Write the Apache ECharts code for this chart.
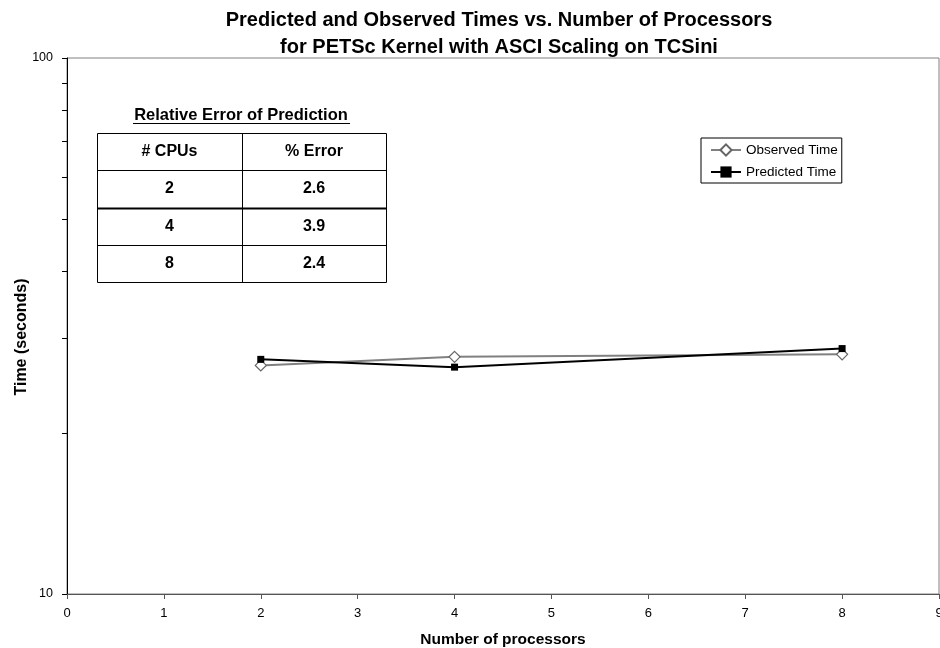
<!DOCTYPE html>
<html>
<head>
<meta charset="utf-8">
<script src="https://cdn.jsdelivr.net/npm/echarts@6/dist/echarts.min.js"></script>
<style>
  html, body { margin: 0; padding: 0; background: #fff; }
  #chart { width: 940px; height: 648px; }
</style>
</head>
<body>
<div id="chart"></div>
<script>
// number of processors
const processors = [2, 4, 8];
// times in seconds
const observedTime = [26.7, 27.7, 28.0];
const predictedTime = [27.4, 26.5, 28.7];

// inset table
const tableHeader = ["# CPUs", "% Error"];
const tableCpus = ["2", "4", "8"];
const tableError = ["2.6", "3.9", "2.4"];

// minor ticks on the log axis
const minorTickValues = [20, 30, 40, 50, 60, 70, 80, 90];

const FONT = 'Arial, "Liberation Sans", sans-serif';

const chart = echarts.init(document.getElementById("chart"));

// build table graphics
const tLeft = 97, tTop = 133, tWidth = 289, tRowH = 37.25, tColX = 242;
const tableGraphics = [];
tableGraphics.push({
  type: "text",
  x: (tLeft + tLeft + tWidth) / 2 - 0.5,
  y: 115,
  style: {
    text: "Relative Error of Prediction",
    font: "bold 16.5px " + FONT,
    fill: "#000",
    textAlign: "center",
    textVerticalAlign: "middle"
  }
});
tableGraphics.push({
  type: "line",
  shape: { x1: 133, y1: 123.5, x2: 350, y2: 123.5 },
  style: { stroke: "#000", lineWidth: 1 }
});
tableGraphics.push({
  type: "rect",
  shape: { x: tLeft + 0.5, y: tTop + 0.5, width: tWidth, height: tRowH * 4 },
  style: { fill: "#fff", stroke: "#000", lineWidth: 1 }
});
tableGraphics.push({
  type: "line",
  shape: { x1: tColX + 0.5, y1: tTop, x2: tColX + 0.5, y2: tTop + tRowH * 4 },
  style: { stroke: "#000", lineWidth: 1 }
});
for (let r = 1; r < 4; r++) {
  const yy = Math.round(tTop + tRowH * r) + 0.5;
  tableGraphics.push({
    type: "line",
    shape: { x1: tLeft, y1: yy, x2: tLeft + tWidth, y2: yy },
    style: { stroke: "#000", lineWidth: r === 2 ? 2 : 1 }
  });
}
const rows = [tableHeader].concat(tableCpus.map((c, i) => [c, tableError[i]]));
rows.forEach((row, r) => {
  const cy = tTop + tRowH * r + tRowH / 2;
  tableGraphics.push({
    type: "text",
    x: (tLeft + tColX) / 2,
    y: cy,
    style: { text: row[0], font: "bold 16px " + FONT, fill: "#000", textAlign: "center", textVerticalAlign: "middle" }
  });
  tableGraphics.push({
    type: "text",
    x: (tColX + tLeft + tWidth) / 2,
    y: cy,
    style: { text: row[1], font: "bold 16px " + FONT, fill: "#000", textAlign: "center", textVerticalAlign: "middle" }
  });
});

const option = {
  backgroundColor: "#fff",
  animation: false,
  title: {
    text: "Predicted and Observed Times vs. Number of Processors\nfor PETSc Kernel with ASCI Scaling on TCSini",
    left: 494,
    top: 2,
    textAlign: "center",
    textStyle: {
      fontFamily: FONT,
      fontSize: 20,
      fontWeight: "bold",
      color: "#000",
      lineHeight: 27
    }
  },
  legend: {
    orient: "vertical",
    left: 701,
    top: 138,
    padding: [5, 4, 4, 9],
    itemGap: 8,
    itemWidth: 30,
    itemHeight: 14,
    borderColor: "#000",
    borderWidth: 1,
    backgroundColor: "#fff",
    selectedMode: false,
    data: ["Observed Time", "Predicted Time"],
    textStyle: { fontFamily: FONT, fontSize: 13.5, color: "#000" }
  },
  grid: {
    left: 67,
    right: 1,
    top: 58,
    bottom: 54,
    containLabel: false,
    outerBoundsMode: "none",
    show: true,
    borderColor: "#808080",
    borderWidth: 1
  },
  xAxis: {
    type: "value",
    min: 0,
    max: 9,
    interval: 1,
    name: "Number of processors",
    nameLocation: "middle",
    nameGap: 38,
    nameMoveOverlap: false,
    nameTextStyle: { fontFamily: FONT, fontSize: 15.5, fontWeight: "bold", color: "#000" },
    axisLine: { show: true, lineStyle: { color: "#555", width: 1 } },
    axisTick: { show: true, inside: false, length: 5, lineStyle: { color: "#555" } },
    axisLabel: { margin: 13, fontFamily: FONT, fontSize: 13, color: "#000" },
    splitLine: { show: false }
  },
  yAxis: {
    type: "log",
    logBase: 10,
    min: 10,
    max: 100,
    name: "Time (seconds)",
    nameLocation: "middle",
    nameGap: 37,
    nameMoveOverlap: false,
    nameTextStyle: { fontFamily: FONT, fontSize: 16, fontWeight: "bold", color: "#000", padding: [0, 22, 0, 0] },
    axisLine: { show: true, lineStyle: { color: "#000", width: 1 } },
    axisTick: { show: true, inside: false, length: 5, lineStyle: { color: "#000" } },
    axisLabel: { margin: 14, fontFamily: FONT, fontSize: 12.5, color: "#000" },
    splitLine: { show: false }
  },
  graphic: tableGraphics,
  series: [
    {
      name: "Observed Time",
      type: "line",
      data: processors.map((p, i) => [p, observedTime[i]]),
      symbol: "diamond",
      symbolSize: 11,
      showAllSymbol: true,
      lineStyle: { color: "#808080", width: 2 },
      itemStyle: { color: "#fff", borderColor: "#666", borderWidth: 1.2 },
      z: 3
    },
    {
      name: "Predicted Time",
      type: "line",
      data: processors.map((p, i) => [p, predictedTime[i]]),
      symbol: "rect",
      symbolSize: 7,
      lineStyle: { color: "#000", width: 2 },
      itemStyle: { color: "#000", borderWidth: 0 },
      z: 4
    },
    {
      // minor ticks on log axis at 20..90
      name: "minorTicks",
      type: "custom",
      silent: true,
      clip: false,
      data: minorTickValues.map(v => [0, v]),
      renderItem: function (params, api) {
        const pt = api.coord([api.value(0), api.value(1)]);
        return {
          type: "line",
          shape: { x1: pt[0] - 5, y1: Math.round(pt[1]) + 0.5, x2: pt[0], y2: Math.round(pt[1]) + 0.5 },
          style: { stroke: "#000", lineWidth: 1 }
        };
      },
      tooltip: { show: false }
    }
  ]
};

chart.setOption(option);
</script>
</body>
</html>
